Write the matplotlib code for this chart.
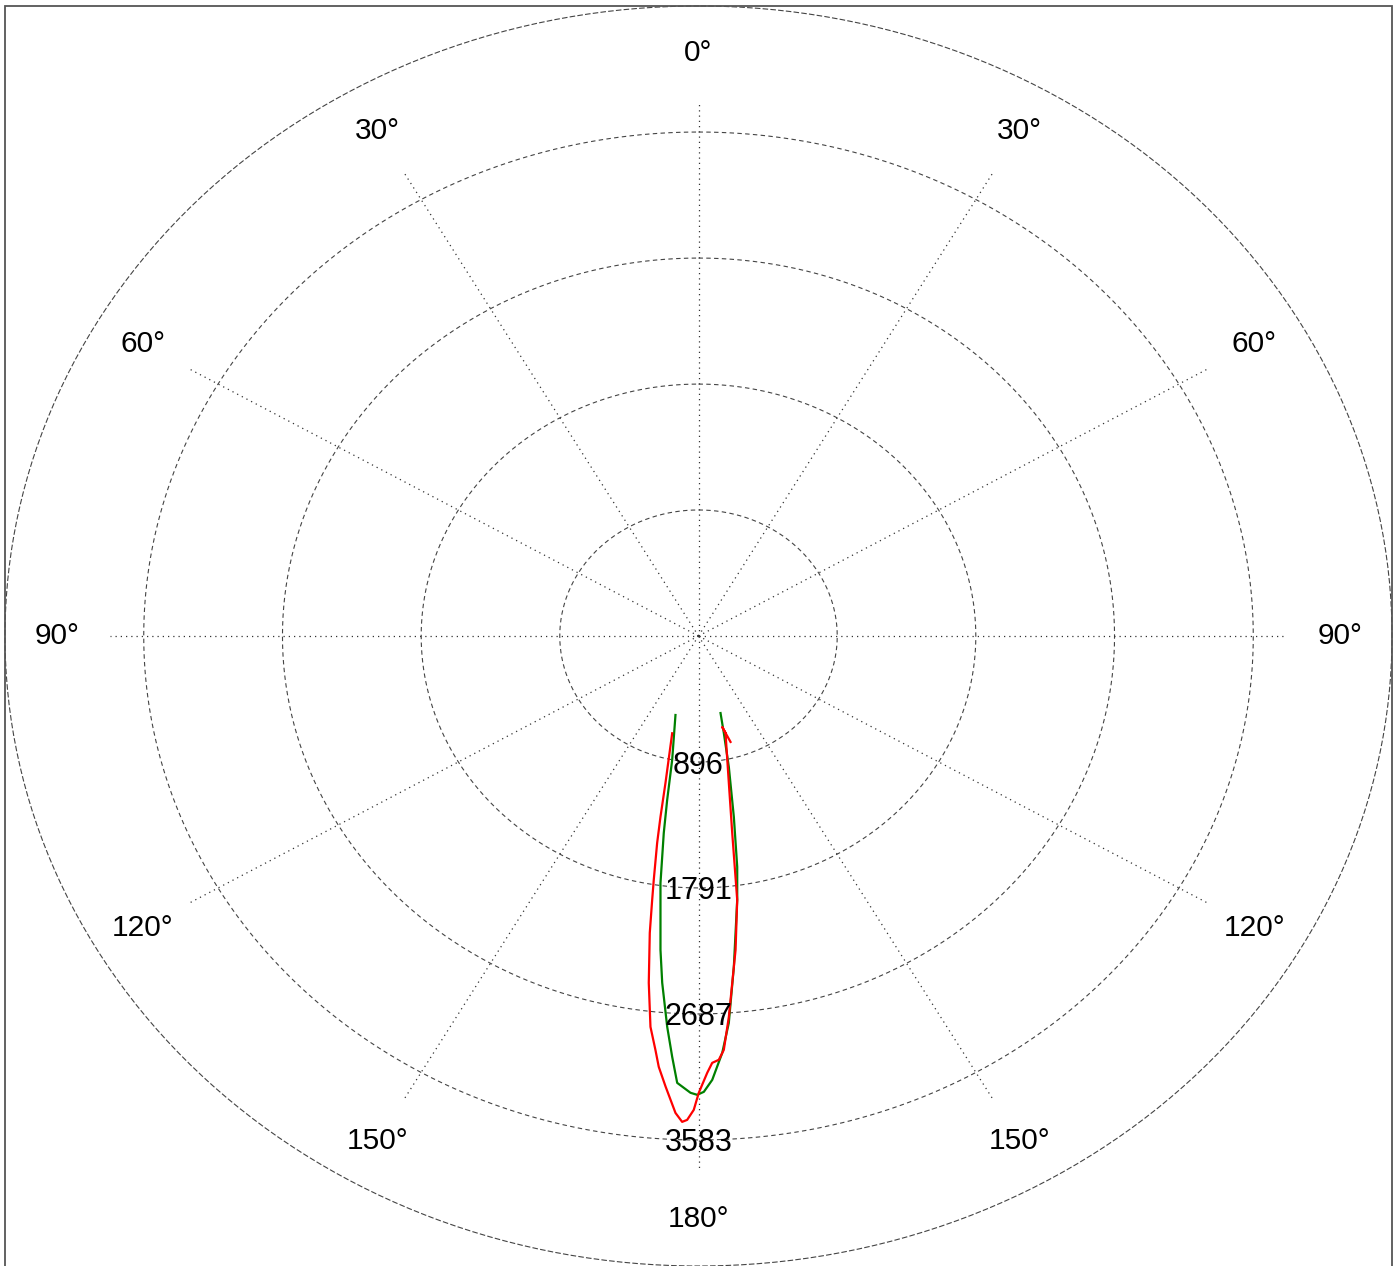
import numpy as np
import matplotlib
matplotlib.use("Agg")
import matplotlib.pyplot as plt
from matplotlib.patches import Rectangle

plt.rcParams['font.family'] = ['Liberation Sans', 'DejaVu Sans']

# ---- data ----
ring_values = [896, 1791, 2687, 3583]
ring_labels = ["896", "1791", "2687", "3583"]
r_max = 4479
spoke_len = 3800
label_r = 4145
angle_ticks = [0, 30, 60, 90, 120, 150, 180, 210, 240, 270, 300, 330]
angle_labels = ["0°", "30°", "60°", "90°", "120°", "150°", "180°",
                "150°", "120°", "90°", "60°", "30°"]

green_theta = [194.83, 190.92, 189.85, 189.10, 187.96, 186.28, 185.43, 184.16,
               183.25, 182.48, 180.91, 180.15, 179.39, 178.39, 177.04, 175.93,
               174.46, 172.41, 171.34, 169.94, 168.12, 166.66, 165.44]
green_r = [581, 898, 1183, 1418, 1773, 2245, 2477, 2786,
           2997, 3180, 3248, 3262, 3241, 3157, 2968, 2758,
           2364, 1893, 1661, 1307, 952, 709, 566]

red_theta = [193.81, 191.54, 190.81, 190.29, 189.46, 189.06, 188.48, 187.42,
             186.37, 185.40, 184.79, 183.80, 182.51, 181.75, 181.22,
             180.52, 179.97, 178.96, 178.33, 177.51, 176.82, 175.86, 174.95,
             173.88, 172.41, 171.16, 169.38, 165.8, 166.68, 164.64]
red_r = [712, 1066, 1310, 1495, 1758, 1900, 2134, 2487,
         2796, 2956, 3074, 3210, 3394, 3456, 3441,
         3369, 3248, 3106, 3036, 3016, 2947, 2715, 2476,
         2245, 1893, 1417, 1063, 711, 665, 781]

# ---- figure ----
W, H = 1400, 1266
fig = plt.figure(figsize=(W / 100, H / 100), dpi=100)
fig.patch.set_facecolor('white')

ax = fig.add_axes([5 / W, 0, 1387 / W, 1 - 6 / H], projection='polar')
ax.set_theta_zero_location('N')
ax.set_theta_direction(-1)
ax.set_aspect('auto')
ax.set_ylim(0, r_max)
ax.set_xticks([])
ax.set_yticks([])
ax.grid(False)
ax.spines['polar'].set_linestyle((0, (4, 3)))
ax.spines['polar'].set_color('#444444')
ax.spines['polar'].set_linewidth(0.8)

grid_col = '#444444'
tt = np.linspace(0, 2 * np.pi, 721)
for rv in ring_values:
    ax.plot(tt, np.full_like(tt, rv), ls=(0, (4, 3)), color=grid_col, lw=0.8, zorder=1)

for a in angle_ticks:
    th = np.deg2rad(a)
    ax.plot([th, th], [0, spoke_len], ls=(0, (1, 3.2)), color='#333333', lw=0.9, zorder=1)

for a, lab in zip(angle_ticks, angle_labels):
    ax.text(np.deg2rad(a), label_r, lab, ha='center', va='center', fontsize=21.5,
            color='black', zorder=5)

for rv, lab in zip(ring_values, ring_labels):
    ax.text(np.pi, rv, lab, ha='center', va='center_baseline', fontsize=22,
            color='black', zorder=5)

ax.plot(np.deg2rad(green_theta), green_r, color='#008000', lw=1.6, zorder=3)
ax.plot(np.deg2rad(red_theta), red_r, color='#ff0000', lw=1.6, zorder=4)

fig.patches.append(Rectangle((4.5 / W, -0.01), 1387.5 / W, 1 - 5.5 / H + 0.01,
                             transform=fig.transFigure, fill=False,
                             edgecolor='#555555', lw=1.3, zorder=10))

fig.savefig('out.png', dpi=100, facecolor='white')
